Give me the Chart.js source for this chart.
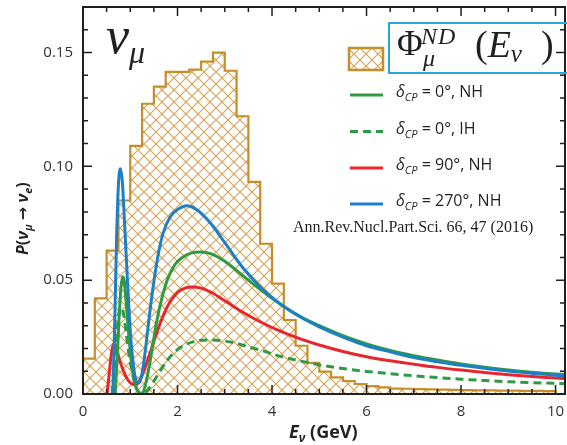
<!DOCTYPE html>
<html>
<head>
<meta charset="utf-8">
<script src="https://cdn.jsdelivr.net/npm/chart.js@4.4.1/dist/chart.umd.min.js"></script>
<style>
  html, body { margin: 0; padding: 0; background: #fff; }
</style>
</head>
<body>
<canvas id="chart" width="567" height="445"></canvas>
<script>
// ND muon-neutrino flux, 0.25 GeV bins starting at 0
const fluxBinStart = 0;
const fluxBinWidth = 0.25;
const fluxHeights = [
  0.0155, 0.042, 0.063, 0.085, 0.109, 0.1275, 0.135, 0.1415, 0.1415, 0.1425,
  0.146, 0.150, 0.142, 0.122, 0.0932, 0.066, 0.0485, 0.0325, 0.0212, 0.0137,
  0.0098, 0.0073, 0.0057, 0.0044, 0.0035, 0.0029, 0.0024, 0.0023, 0.0021, 0.0020,
  0.0019, 0.0018, 0.0017, 0.0016, 0.0016, 0.0015, 0.0015, 0.0014, 0.0014, 0.0013,
];

// P(nu_mu -> nu_e) curves, energies in GeV
const nh0E = [0.68, 0.72, 0.76, 0.80, 0.84, 0.87, 0.91, 0.96, 1.02, 1.08, 1.14, 1.20, 1.26, 1.32, 1.40, 1.48, 1.57, 1.68, 1.80, 1.95, 2.10, 2.30, 2.50, 2.70, 3.00, 3.40, 3.80, 4.20, 4.60, 5.00, 5.50, 6.00, 6.50, 7.00, 7.50, 8.00, 8.50, 9.00, 9.50, 10.0, 10.4];
const nh0P = [0.000, 0.014, 0.032, 0.046, 0.0515, 0.050, 0.041, 0.028, 0.015, 0.0065, 0.002, 0.0003, 0.0003, 0.004, 0.012, 0.022, 0.033, 0.043, 0.051, 0.057, 0.060, 0.0620, 0.0624, 0.0617, 0.0583, 0.0517, 0.0451, 0.0391, 0.0340, 0.0300, 0.0256, 0.0220, 0.0191, 0.0168, 0.0149, 0.0132, 0.0118, 0.0106, 0.0096, 0.0088, 0.0083];

const ih0E = [0.62, 0.66, 0.70, 0.74, 0.78, 0.82, 0.86, 0.90, 0.95, 1.00, 1.06, 1.12, 1.18, 1.24, 1.30, 1.38, 1.48, 1.60, 1.75, 1.90, 2.10, 2.35, 2.62, 2.90, 3.20, 3.50, 3.80, 4.20, 4.60, 5.00, 5.50, 6.00, 6.50, 7.00, 7.50, 8.00, 8.50, 9.00, 9.50, 10.0, 10.4];
const ih0P = [0.000, 0.010, 0.022, 0.032, 0.0375, 0.038, 0.035, 0.029, 0.021, 0.014, 0.0075, 0.003, 0.0008, 0.0001, 0.0005, 0.002, 0.005, 0.009, 0.0138, 0.0177, 0.0210, 0.0230, 0.0237, 0.0235, 0.0225, 0.0207, 0.0190, 0.0164, 0.0145, 0.0128, 0.0112, 0.0099, 0.0089, 0.0080, 0.0072, 0.0065, 0.0059, 0.0054, 0.0050, 0.0047, 0.0045];

const nh90E = [0.51, 0.55, 0.59, 0.63, 0.67, 0.72, 0.78, 0.85, 0.92, 0.99, 1.05, 1.11, 1.17, 1.24, 1.32, 1.42, 1.53, 1.65, 1.80, 1.95, 2.10, 2.30, 2.50, 2.70, 3.00, 3.40, 3.80, 4.20, 4.60, 5.00, 5.50, 6.00, 6.50, 7.00, 7.50, 8.00, 8.50, 9.00, 9.50, 10.0, 10.4];
const nh90P = [0.000, 0.008, 0.016, 0.021, 0.022, 0.019, 0.0145, 0.0105, 0.0072, 0.0052, 0.0043, 0.0040, 0.0048, 0.0075, 0.012, 0.018, 0.025, 0.032, 0.039, 0.0435, 0.0460, 0.0470, 0.0465, 0.0448, 0.0410, 0.0357, 0.0312, 0.0274, 0.0242, 0.0215, 0.0187, 0.0164, 0.0146, 0.0131, 0.0117, 0.0105, 0.0094, 0.0085, 0.0077, 0.0070, 0.0066];

const nh270E = [0.63, 0.67, 0.71, 0.75, 0.79, 0.83, 0.88, 0.94, 1.00, 1.07, 1.13, 1.18, 1.24, 1.30, 1.38, 1.47, 1.58, 1.70, 1.85, 2.00, 2.20, 2.40, 2.70, 3.00, 3.40, 3.80, 4.20, 4.60, 5.00, 5.50, 6.00, 6.50, 7.00, 7.50, 8.00, 8.50, 9.00, 9.50, 10.0, 10.4];
const nh270P = [0.000, 0.030, 0.068, 0.092, 0.099, 0.094, 0.075, 0.050, 0.028, 0.012, 0.0055, 0.0048, 0.008, 0.016, 0.030, 0.045, 0.060, 0.071, 0.078, 0.081, 0.0827, 0.081, 0.0750, 0.0665, 0.0550, 0.0460, 0.0392, 0.0338, 0.0295, 0.0250, 0.0212, 0.0185, 0.0160, 0.0142, 0.0126, 0.0113, 0.0101, 0.0091, 0.0082, 0.0077];

const xTickValues = [0, 2, 4, 6, 8, 10];
const yTickValues = [0, 0.05, 0.10, 0.15];
const xMinorStep = 0.5;
const yMinorStep = 0.01;

const legendItems = [
  { label: " = 0°, NH", color: "#2d9a44", dash: [] },
  { label: " = 0°, IH", color: "#2d9a44", dash: [8, 5] },
  { label: " = 90°, NH", color: "#e8262d", dash: [] },
  { label: " = 270°, NH", color: "#1d7fc6", dash: [] },
];

const FLUX_COLOR = "#c68e2b";
const SANS = "'Open Sans', 'DejaVu Sans', sans-serif";
const SERIF = "'Liberation Serif', 'DejaVu Serif', serif";

const canvas = document.getElementById("chart");
const ctx = canvas.getContext("2d");

function hatchPattern() {
  const tile = document.createElement("canvas");
  tile.width = 12;
  tile.height = 12;
  const t = tile.getContext("2d");
  t.strokeStyle = "#d4a154";
  t.lineWidth = 1.1;
  t.beginPath();
  t.moveTo(-2, -2); t.lineTo(14, 14);
  t.moveTo(14, -2); t.lineTo(-2, 14);
  t.stroke();
  return ctx.createPattern(tile, "repeat");
}
const hatch = hatchPattern();

function zipPoints(xs, ys) {
  return xs.map((x, i) => ({ x, y: ys[i] }));
}

function fluxPoints() {
  const pts = fluxHeights.map((h, i) => ({ x: fluxBinStart + i * fluxBinWidth, y: h }));
  const end = fluxBinStart + fluxHeights.length * fluxBinWidth;
  pts.push({ x: end, y: fluxHeights[fluxHeights.length - 1] });
  pts.push({ x: end, y: 0 });
  return pts;
}

function curve(xs, ys, item, order) {
  return {
    data: zipPoints(xs, ys),
    borderColor: item.color,
    borderDash: item.dash,
    borderWidth: 3,
    pointRadius: 0,
    fill: false,
    cubicInterpolationMode: "monotone",
    order,
  };
}

// text pieces: [text, font, dy]
function drawRun(c, x, y, pieces) {
  for (const [text, font, dy] of pieces) {
    c.font = font;
    c.fillText(text, x, y + (dy || 0));
    x += c.measureText(text).width;
  }
  return x;
}

function drawTicks(c, area, xs, ys) {
  const drawX = (v, len) => {
    const px = xs.getPixelForValue(v);
    c.moveTo(px, area.bottom); c.lineTo(px, area.bottom - len);
    c.moveTo(px, area.top); c.lineTo(px, area.top + len);
  };
  const drawY = (v, len) => {
    const py = ys.getPixelForValue(v);
    c.moveTo(area.left, py); c.lineTo(area.left + len, py);
    c.moveTo(area.right, py); c.lineTo(area.right - len, py);
  };
  c.beginPath();
  for (let i = 0; i * xMinorStep <= xs.max + 1e-9; i++) {
    const v = i * xMinorStep;
    drawX(v, xTickValues.some((t) => Math.abs(t - v) < 1e-9) ? 9 : 5);
  }
  for (let i = 0; i * yMinorStep <= ys.max + 1e-9; i++) {
    const v = i * yMinorStep;
    drawY(v, yTickValues.some((t) => Math.abs(t - v) < 1e-9) ? 9 : 5);
  }
  c.stroke();
}

const decorations = {
  id: "decorations",
  afterDraw(chart) {
    const c = chart.ctx;
    const area = chart.chartArea;
    const xs = chart.scales.x;
    const ys = chart.scales.y;
    c.save();

    // frame and inward ticks
    c.strokeStyle = "#231f20";
    c.lineWidth = 2;
    c.strokeRect(area.left, area.top, area.right - area.left, area.bottom - area.top);
    c.lineWidth = 1.5;
    drawTicks(c, area, xs, ys);

    c.fillStyle = "#231f20";
    c.textBaseline = "alphabetic";

    // nu_mu tag
    drawRun(c, 106, 53, [["ν", "italic 52px " + SERIF], ["μ", "italic 32px " + SERIF, 10]]);

    // flux legend swatch and formula box
    c.fillStyle = hatch;
    c.fillRect(349, 48, 34, 22);
    c.strokeStyle = FLUX_COLOR;
    c.lineWidth = 2.5;
    c.strokeRect(349, 48, 34, 22);
    c.strokeStyle = "#2aa6df";
    c.lineWidth = 2;
    c.strokeRect(389, 23, 200, 50);
    c.fillStyle = "#231f20";
    c.font = "35px " + SERIF;
    c.fillText("Φ", 397, 55);
    c.font = "italic 24px " + SERIF;
    c.fillText("N", 421, 44);
    c.fillText("D", 438, 44);
    c.fillText("μ", 423, 66);
    drawRun(c, 475, 57, [
      ["(", "38px " + SERIF],
      ["E", "italic 38px " + SERIF],
      ["ν", "italic 25px " + SERIF, 5],
    ]);
    c.font = "38px " + SERIF;
    c.fillText(")", 541, 57);

    // curve legend
    const rows = [95, 131.5, 168, 204];
    legendItems.forEach((item, i) => {
      c.strokeStyle = item.color;
      c.lineWidth = 3;
      c.setLineDash(item.dash);
      c.beginPath();
      c.moveTo(350, rows[i]);
      c.lineTo(383, rows[i]);
      c.stroke();
      c.setLineDash([]);
      c.fillStyle = "#231f20";
      drawRun(c, 396, rows[i] + 2, [
        ["δ", "italic 16px " + SANS],
        ["CP", "italic 11px " + SANS, 4],
        [item.label, "16px " + SANS],
      ]);
    });

    c.font = "16px " + SERIF;
    c.fillText("Ann.Rev.Nucl.Part.Sci. 66, 47 (2016)", 293, 232);

    // axis titles
    drawRun(c, 289, 438, [
      ["E", "bold italic 18px " + SANS],
      ["ν", "bold italic 12px " + SANS, 4],
      [" (GeV)", "bold 18px " + SANS],
    ]);
    c.save();
    c.translate(28, 255);
    c.rotate(-Math.PI / 2);
    drawRun(c, 0, 0, [
      ["P", "bold italic 16px " + SANS],
      ["(", "bold 16px " + SANS],
      ["ν", "bold italic 16px " + SANS],
      ["μ", "bold italic 11px " + SANS, 4],
      [" → ", "bold 16px " + SANS],
      ["ν", "bold italic 16px " + SANS],
      ["e", "bold italic 11px " + SANS, 4],
      [")", "bold 16px " + SANS],
    ]);
    c.restore();

    c.restore();
  },
};

new Chart(ctx, {
  type: "line",
  data: {
    datasets: [
      curve(nh270E, nh270P, legendItems[3], 1),
      curve(nh0E, nh0P, legendItems[0], 2),
      curve(nh90E, nh90P, legendItems[2], 3),
      curve(ih0E, ih0P, legendItems[1], 4),
      {
        data: fluxPoints(),
        stepped: "before",
        borderColor: FLUX_COLOR,
        borderWidth: 2.2,
        backgroundColor: hatch,
        fill: "origin",
        pointRadius: 0,
        order: 10,
      },
    ],
  },
  options: {
    responsive: false,
    animation: false,
    events: [],
    layout: { padding: { top: 7, right: 2, left: 0, bottom: 0 } },
    plugins: { legend: { display: false }, tooltip: { enabled: false } },
    scales: {
      x: {
        type: "linear",
        min: 0,
        max: 10.2,
        afterBuildTicks: (s) => { s.ticks = xTickValues.map((v) => ({ value: v })); },
        afterFit: (s) => {
          s.height = 51;
          s.paddingLeft = 0;
          s.paddingRight = 0;
        },
        grid: { display: false, drawTicks: false },
        border: { display: false },
        ticks: {
          padding: 9,
          maxRotation: 0,
          color: "#333",
          font: { family: SANS, size: 15 },
          callback: (v) => String(v),
        },
      },
      y: {
        min: 0,
        max: 0.17,
        afterBuildTicks: (s) => { s.ticks = yTickValues.map((v) => ({ value: v })); },
        afterFit: (s) => {
          s.width = 83;
          s.paddingTop = 0;
          s.paddingBottom = 0;
        },
        grid: { display: false, drawTicks: false },
        border: { display: false },
        ticks: {
          padding: 10,
          color: "#333",
          font: { family: SANS, size: 15 },
          callback: (v) => v.toFixed(2),
        },
      },
    },
  },
  plugins: [decorations],
});
</script>
</body>
</html>
